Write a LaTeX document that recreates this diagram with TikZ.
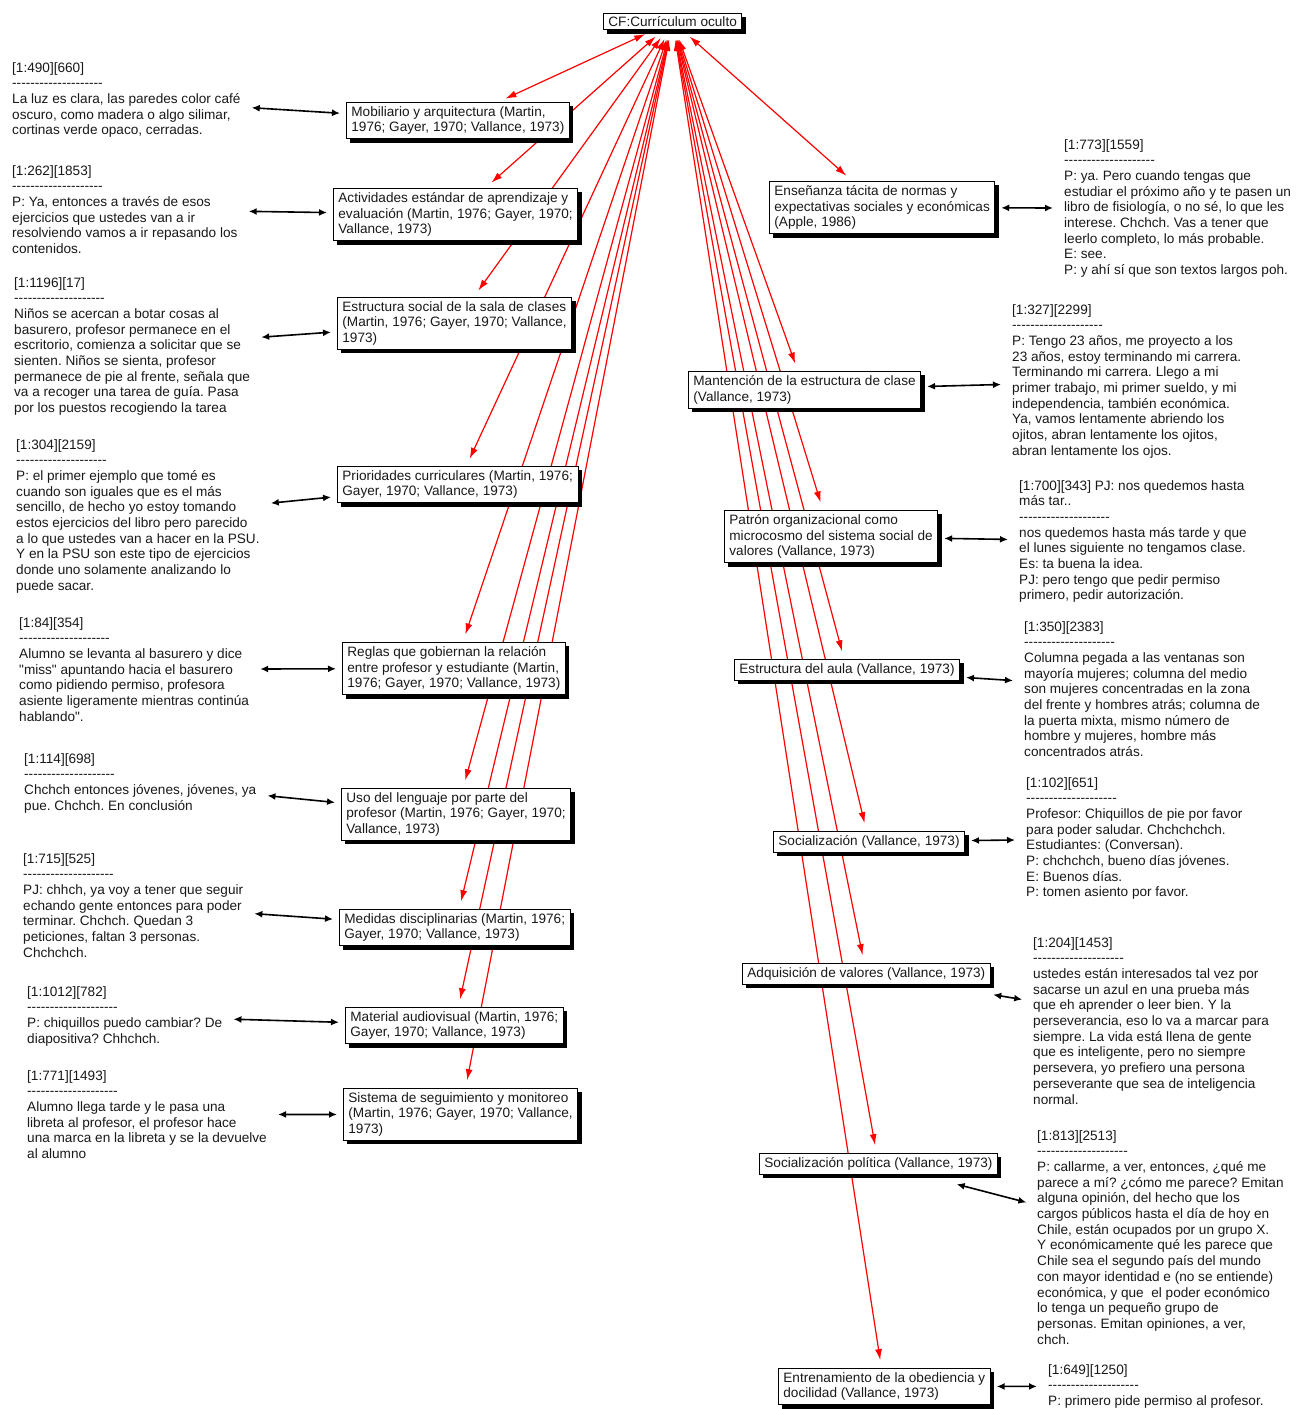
\documentclass[tikz,border=0pt]{standalone}
\usepackage{fontspec}
\setmainfont{Liberation Sans}
\usetikzlibrary{arrows.meta,shadows,backgrounds}
\frenchspacing

% a row of twenty hyphens, kept apart so they do not merge into dashes
\newcommand\dashrow{-{}-{}-{}-{}-{}-{}-{}-{}-{}-{}-{}-{}-{}-{}-{}-{}-{}-{}-{}-}

\tikzset{
  txt/.style={font=\fontsize{13.6pt}{15.7pt}\selectfont, text=black!90},
  code/.style={txt, draw=black, line width=0.8pt, fill=white, align=left,
    inner xsep=5pt, inner ysep=4pt, anchor=north west,
    drop shadow={shadow xshift=4pt, shadow yshift=-4pt, fill=black, opacity=1}},
  quote/.style={txt, align=left, inner sep=0pt, anchor=north west},
  rlink/.style={draw=red, line width=1.2pt,
    {Latex[length=11pt,width=7pt]}-{Latex[length=11pt,width=7pt]},
    shorten <=10pt, shorten >=8pt},
  blink/.style={draw=black, line width=1.6pt,
    {Latex[length=8pt,width=7pt]}-{Latex[length=8pt,width=7pt]},
    shorten <=6pt, shorten >=11pt},
}

\begin{document}
\begin{tikzpicture}[x=1pt,y=-1pt]
\useasboundingbox (0,0) rectangle (1301,1409);

% central code
\node[code, inner ysep=3pt] (cf) at (603,13) {CF:Currículum oculto};

% codes on the left
\node[code] (b1) at (346,102) {Mobiliario y arquitectura (Martin,\\1976; Gayer, 1970; Vallance, 1973)};
\node[code] (b2) at (333,188) {Actividades estándar de aprendizaje y\\evaluación (Martin, 1976; Gayer, 1970;\\Vallance, 1973)};
\node[code] (b3) at (337,297) {Estructura social de la sala de clases\\(Martin, 1976; Gayer, 1970; Vallance,\\1973)};
\node[code] (b4) at (337,466) {Prioridades curriculares (Martin, 1976;\\Gayer, 1970; Vallance, 1973)};
\node[code] (b5) at (342,642) {Reglas que gobiernan la relación\\entre profesor y estudiante (Martin,\\1976; Gayer, 1970; Vallance, 1973)};
\node[code] (b6) at (341,788) {Uso del lenguaje por parte del\\profesor (Martin, 1976; Gayer, 1970;\\Vallance, 1973)};
\node[code] (b7) at (339,909) {Medidas disciplinarias (Martin, 1976;\\Gayer, 1970; Vallance, 1973)};
\node[code] (b8) at (345,1007) {Material audiovisual (Martin, 1976;\\Gayer, 1970; Vallance, 1973)};
\node[code] (b9) at (343,1088) {Sistema de seguimiento y monitoreo\\(Martin, 1976; Gayer, 1970; Vallance,\\1973)};

% codes on the right
\node[code] (r1) at (769,181) {Enseñanza tácita de normas y\\expectativas sociales y económicas\\(Apple, 1986)};
\node[code] (r2) at (688,371) {Mantención de la estructura de clase\\(Vallance, 1973)};
\node[code] (r3) at (724,510) {Patrón organizacional como\\microcosmo del sistema social de\\valores (Vallance, 1973)};
\node[code] (r4) at (734,659) {Estructura del aula (Vallance, 1973)};
\node[code] (r5) at (773,831) {Socialización (Vallance, 1973)};
\node[code] (r6) at (742,963) {Adquisición de valores (Vallance, 1973)};
\node[code] (r7) at (759,1153) {Socialización política (Vallance, 1973)};
\node[code] (r8) at (778,1368) {Entrenamiento de la obediencia y\\docilidad (Vallance, 1973)};

% quotations on the left
\node[quote] (q1) at (12,62) {[1:490][660]\\\dashrow\\La luz es clara, las paredes color café\\oscuro, como madera o algo silimar,\\cortinas verde opaco, cerradas.};
\node[quote] (q2) at (12,165) {[1:262][1853]\\\dashrow\\P: Ya, entonces a través de esos\\ejercicios que ustedes van a ir\\resolviendo vamos a ir repasando los\\contenidos.};
\node[quote] (q3) at (14,277) {[1:1196][17]\\\dashrow\\Niños se acercan a botar cosas al\\basurero, profesor permanece en el\\escritorio, comienza a solicitar que se\\sienten. Niños se sienta, profesor\\permanece de pie al frente, señala que\\va a recoger una tarea de guía. Pasa\\por los puestos recogiendo la tarea};
\node[quote] (q4) at (16,439) {[1:304][2159]\\\dashrow\\P: el primer ejemplo que tomé es\\cuando son iguales que es el más\\sencillo, de hecho yo estoy tomando\\estos ejercicios del libro pero parecido\\a lo que ustedes van a hacer en la PSU.\\Y en la PSU son este tipo de ejercicios\\donde uno solamente analizando lo\\puede sacar.};
\node[quote] (q5) at (19,617) {[1:84][354]\\\dashrow\\Alumno se levanta al basurero y dice\\\textquotedbl miss\textquotedbl{} apuntando hacia el basurero\\como pidiendo permiso, profesora\\asiente ligeramente mientras continúa\\hablando\textquotedbl.};
\node[quote] (q6) at (24,753) {[1:114][698]\\\dashrow\\Chchch entonces jóvenes, jóvenes, ya\\pue. Chchch. En conclusión};
\node[quote] (q7) at (23,853) {[1:715][525]\\\dashrow\\PJ: chhch, ya voy a tener que seguir\\echando gente entonces para poder\\terminar. Chchch. Quedan 3\\peticiones, faltan 3 personas.\\Chchchch.};
\node[quote] (q8) at (27,986) {[1:1012][782]\\\dashrow\\P: chiquillos puedo cambiar? De\\diapositiva? Chhchch.};
\node[quote] (q9) at (27,1070) {[1:771][1493]\\\dashrow\\Alumno llega tarde y le pasa una\\libreta al profesor, el profesor hace\\una marca en la libreta y se la devuelve\\al alumno};

% quotations on the right
\node[quote] (p1) at (1064,139) {[1:773][1559]\\\dashrow\\P: ya. Pero cuando tengas que\\estudiar el próximo año y te pasen un\\libro de fisiología, o no sé, lo que les\\interese. Chchch. Vas a tener que\\leerlo completo, lo más probable.\\E: see.\\P: y ahí sí que son textos largos poh.};
\node[quote] (p2) at (1012,304) {[1:327][2299]\\\dashrow\\P: Tengo 23 años, me proyecto a los\\23 años, estoy terminando mi carrera.\\Terminando mi carrera. Llego a mi\\primer trabajo, mi primer sueldo, y mi\\independencia, también económica.\\Ya, vamos lentamente abriendo los\\ojitos, abran lentamente los ojitos,\\abran lentamente los ojos.};
\node[quote] (p3) at (1019,480) {[1:700][343] PJ: nos quedemos hasta\\más tar..\\\dashrow\\nos quedemos hasta más tarde y que\\el lunes siguiente no tengamos clase.\\Es: ta buena la idea.\\PJ: pero tengo que pedir permiso\\primero, pedir autorización.};
\node[quote] (p4) at (1024,621) {[1:350][2383]\\\dashrow\\Columna pegada a las ventanas son\\mayoría mujeres; columna del medio\\son mujeres concentradas en la zona\\del frente y hombres atrás; columna de\\la puerta mixta, mismo número de\\hombre y mujeres, hombre más\\concentrados atrás.};
\node[quote] (p5) at (1026,777) {[1:102][651]\\\dashrow\\Profesor: Chiquillos de pie por favor\\para poder saludar. Chchchchch.\\Estudiantes: (Conversan).\\P: chchchch, bueno días jóvenes.\\E: Buenos días.\\P: tomen asiento por favor.};
\node[quote] (p6) at (1033,937) {[1:204][1453]\\\dashrow\\ustedes están interesados tal vez por\\sacarse un azul en una prueba más\\que eh aprender o leer bien. Y la\\perseverancia, eso lo va a marcar para\\siempre. La vida está llena de gente\\que es inteligente, pero no siempre\\persevera, yo prefiero una persona\\perseverante que sea de inteligencia\\normal.};
\node[quote] (p7) at (1037,1130) {[1:813][2513]\\\dashrow\\P: callarme, a ver, entonces, ¿qué me\\parece a mí? ¿cómo me parece? Emitan\\alguna opinión, del hecho que los\\cargos públicos hasta el día de hoy en\\Chile, están ocupados por un grupo X.\\Y económicamente qué les parece que\\Chile sea el segundo país del mundo\\con mayor identidad e (no se entiende)\\económica, y que \ el poder económico\\lo tenga un pequeño grupo de\\personas. Emitan opiniones, a ver,\\chch.};
\node[quote] (p8) at (1048,1364) {[1:649][1250]\\\dashrow\\P: primero pide permiso al profesor.};

% links between codes and their quotations
\foreach \c/\q in {b1/q1,b2/q2,b3/q3,b4/q4,b5/q5,b6/q6,b7/q7,b8/q8,b9/q9,
                   r1/p1,r2/p2,r3/p3,r4/p4,r5/p5,r8/p8}
  \draw[blink] (\c) -- (\q);
\draw[blink, shorten <=62pt] (r6) -- (p6);
\draw[blink, shorten <=38pt] (r7) -- (p7);

% links from the central code, kept beneath the boxes
\begin{pgfonlayer}{background}
  \fill[white] (0,0) rectangle (1301,1409);
  \foreach \t in {b1,b2,b3,b4,b5,b6,b7,b8,b9,r1,r2,r3,r4,r5,r6,r7,r8}
    \draw[rlink] (cf) -- (\t);
\end{pgfonlayer}
\end{tikzpicture}
\end{document}
